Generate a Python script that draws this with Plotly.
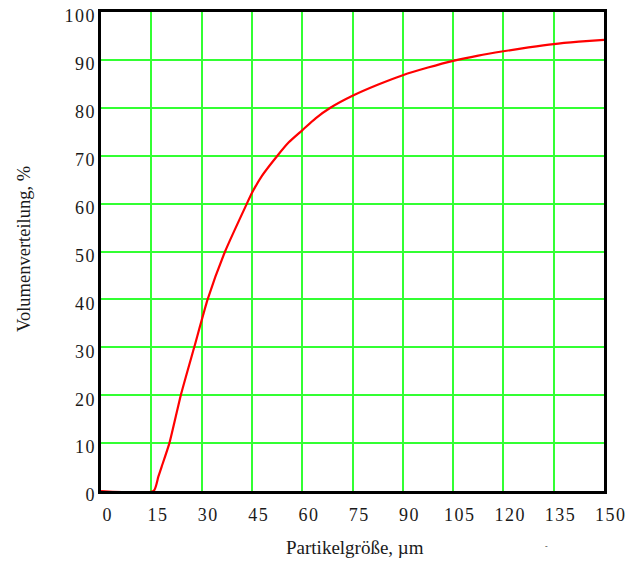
import plotly.graph_objects as go

# Particle size (µm) and cumulative volume distribution (%)
size_um = [0, 15.7, 17.1, 18.1, 20.4, 23.8, 27.8, 31.8, 37.0, 43.5, 45.0, 48.0,
           52.6, 56.0, 60.0, 64.0, 68.4, 75.0, 82.5, 90.0, 97.5, 105.0, 112.5,
           120.0, 127.5, 135.0, 142.5, 150.0]
volume_pct = [0, 0, 3.0, 5.1, 10.0, 20.0, 30.0, 40.0, 50.0, 60.0, 62.2, 65.8,
              70.0, 72.8, 75.3, 77.8, 80.0, 82.5, 84.8, 86.8, 88.4, 89.8, 90.9,
              91.8, 92.6, 93.3, 93.8, 94.2]

x_ticks = [0, 15, 30, 45, 60, 75, 90, 105, 120, 135, 150]
y_ticks = [0, 10, 20, 30, 40, 50, 60, 70, 80, 90, 100]

x_title = "Partikelgröße, µm"
y_title = "Volumenverteilung, %"


def spaced(v):
    # the reference prints tick digits slightly letter-spaced
    return "\u200a".join(str(v))


fig = go.Figure()
fig.add_trace(go.Scatter(
    x=size_um, y=volume_pct, mode="lines",
    line=dict(color="#ff0000", width=2.2, shape="spline", smoothing=0.5),
    showlegend=False, hoverinfo="skip", cliponaxis=False,
))

font_family = "Liberation Serif"
grid_color = "#33ff33"
txt_color = "#1a1a1a"

W, H = 627, 561
# plot area in page pixels: x 100..604, y 12..491
ML, MR, MT, MB = 101, W - 604, 12, H - 491

fig.update_layout(
    width=W, height=H,
    margin=dict(l=ML, r=MR, t=MT, b=MB),
    paper_bgcolor="white", plot_bgcolor="white",
    font=dict(family=font_family, color=txt_color),
    xaxis=dict(
        range=[0, 150], tickvals=x_ticks, ticktext=[spaced(v) for v in x_ticks],
        showgrid=True, gridcolor=grid_color, gridwidth=1.6,
        showline=True, linecolor="black", linewidth=3, mirror=True,
        zeroline=False, ticks="", ticklabelstandoff=5, ticklabelshift=6,
        ticklabeloverflow="allow",
        automargin=False, layer="below traces",
        tickfont=dict(family=font_family, size=18, color=txt_color),
    ),
    yaxis=dict(
        range=[0, 100], tickvals=y_ticks, ticktext=[spaced(v) for v in y_ticks],
        showgrid=True, gridcolor=grid_color, gridwidth=1.6,
        showline=True, linecolor="black", linewidth=3, mirror=True,
        zeroline=False, ticks="", ticklabelstandoff=0, ticklabelshift=4,
        ticklabeloverflow="allow",
        automargin=False,
        tickfont=dict(family=font_family, size=18, color=txt_color),
    ),
)

pw, ph = W - ML - MR, H - MT - MB


def px(xp, yp):
    # page pixel -> paper coordinates
    return (xp - ML) / pw, (H - MB - yp) / ph


ax, ay = px(355, 547)
fig.add_annotation(text=x_title, x=ax, y=ay, xref="paper", yref="paper",
                   showarrow=False, xanchor="center", yanchor="middle",
                   font=dict(family=font_family, size=19, color=txt_color))
ax, ay = px(24, 249)
fig.add_annotation(text=y_title, x=ax, y=ay, xref="paper", yref="paper",
                   showarrow=False, xanchor="center", yanchor="middle", textangle=-90,
                   font=dict(family=font_family, size=18.5, color=txt_color))
ax, ay = px(550, 553)
fig.add_annotation(text="-", x=ax, y=ay, xref="paper", yref="paper",
                   showarrow=False, font=dict(size=8, color="#333"))

fig.write_html(
    "out.html",
    config={"displayModeBar": False},
    post_script="document.body.style.margin='0';document.body.style.overflow='hidden';",
)
